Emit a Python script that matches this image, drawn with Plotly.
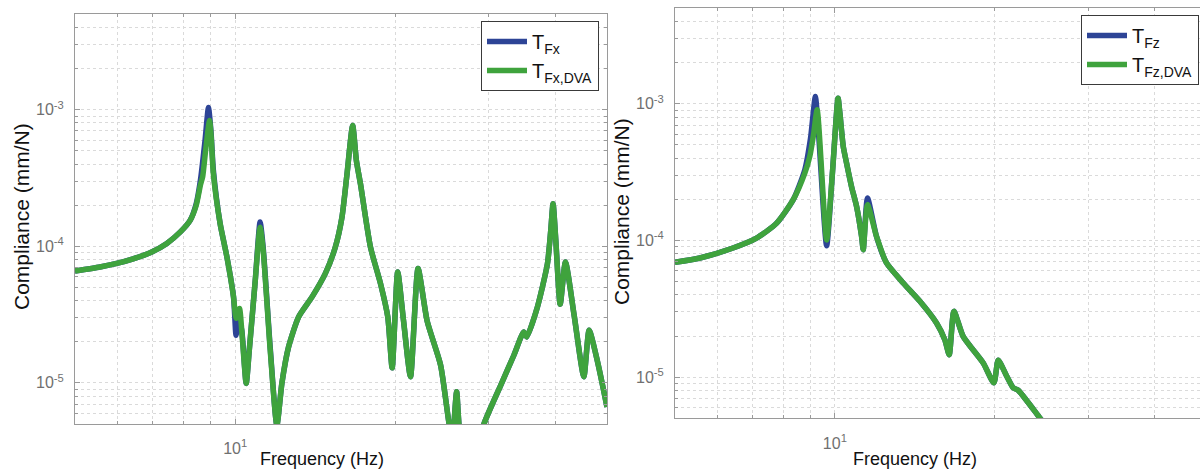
import math
import plotly.graph_objects as go

# ---------------- data ----------------
# Left panel: T_Fx (without DVA) and T_Fx,DVA
FREQ_FX = [5.0, 5.57, 5.99, 6.43, 6.97, 7.44, 7.88, 8.23, 8.45, 8.61, 8.78, 8.91, 9.01, 9.10,
           9.37, 9.65, 9.93, 10.04, 10.15, 10.29, 10.49, 10.63, 10.91, 11.14, 11.29, 11.64,
           11.98, 12.24, 12.60, 13.16, 13.95, 14.77, 15.43, 15.88, 16.23, 16.63, 16.90, 17.20,
           17.96, 18.76, 19.36, 19.73, 20.21, 20.72, 21.36, 22.07, 22.96, 24.33, 25.21, 25.6,
           26.08, 26.55, 28.0, 29.35, 31.56, 33.43, 34.87, 35.32, 37.00, 38.64, 39.20, 39.59,
           40.06, 40.83, 41.77, 43.37, 45.23, 46.28, 48.01, 50.0]
T_FX = [6.6e-5, 7.06e-5, 7.5e-5, 8.1e-5, 9.1e-5, 1.05e-4, 1.27e-4, 1.55e-4, 2.05e-4, 3.1e-4,
        6.0e-4, 1.04e-3, 6.8e-4, 3.6e-4, 1.47e-4, 8.35e-5, 4.26e-5, 2.23e-5, 3.0e-5, 2.43e-5,
        9.9e-6, 1.73e-5, 5.64e-5, 1.51e-4, 9.8e-5, 1.8e-5, 4.9e-6, 9.9e-6, 1.83e-5, 3.04e-5,
        4.26e-5, 6.31e-5, 9.88e-5, 1.64e-4, 3.40e-4, 7.67e-4, 4.25e-4, 2.87e-4, 9.88e-5,
        5.33e-5, 3.04e-5, 1.29e-5, 6.49e-5, 2.88e-5, 1.11e-5, 6.87e-5, 2.83e-5, 1.35e-5,
        5.19e-6, 3.8e-6, 8.6e-6, 3.8e-6, 2.5e-6, 5.0e-6, 9.6e-6, 1.60e-5, 2.36e-5, 2.17e-5,
        3.60e-5, 7.47e-5, 1.31e-4, 2.05e-4, 1.11e-4, 3.77e-5, 7.68e-5, 3.13e-5, 1.11e-5,
        2.43e-5, 1.42e-5, 6.67e-6]

FREQ_FX_DVA = [5.0, 5.57, 5.99, 6.43, 6.97, 7.44, 7.88, 8.23, 8.45, 8.61, 8.69, 8.80, 8.95, 9.01,
               9.10, 9.37, 9.65, 9.93, 10.04, 10.19, 10.29, 10.49, 10.63, 10.91, 11.14, 11.29,
               11.64, 11.98, 12.24, 12.60, 13.16, 13.95, 14.77, 15.43, 15.88, 16.23, 16.63,
               16.90, 17.20, 17.96, 18.76, 19.36, 19.73, 20.21, 20.72, 21.36, 22.07, 22.96,
               24.33, 25.21, 25.6, 26.08, 26.55, 28.0, 29.35, 31.56, 33.43, 34.87, 35.32,
               37.00, 38.64, 39.20, 39.59, 40.06, 40.83, 41.77, 43.37, 45.23, 46.28, 48.01, 50.0]
T_FX_DVA = [6.6e-5, 7.06e-5, 7.5e-5, 8.1e-5, 9.1e-5, 1.05e-4, 1.27e-4, 1.55e-4, 2.0e-4, 2.84e-4,
            3.25e-4, 5.03e-4, 8.35e-4, 6.49e-4, 3.40e-4, 1.47e-4, 8.35e-5, 4.26e-5, 2.97e-5,
            3.50e-5, 2.43e-5, 9.9e-6, 1.73e-5, 5.64e-5, 1.38e-4, 9.35e-5, 1.73e-5, 4.9e-6,
            9.9e-6, 1.83e-5, 3.04e-5, 4.26e-5, 6.31e-5, 9.88e-5, 1.64e-4, 3.40e-4, 7.67e-4,
            4.25e-4, 2.87e-4, 9.88e-5, 5.33e-5, 3.04e-5, 1.29e-5, 6.49e-5, 2.88e-5, 1.11e-5,
            6.87e-5, 2.83e-5, 1.35e-5, 5.19e-6, 3.8e-6, 8.6e-6, 3.8e-6, 2.5e-6, 5.0e-6, 9.6e-6,
            1.60e-5, 2.36e-5, 2.17e-5, 3.60e-5, 7.47e-5, 1.31e-4, 2.05e-4, 1.11e-4, 3.77e-5,
            7.68e-5, 3.13e-5, 1.11e-5, 2.43e-5, 1.42e-5, 6.67e-6]

# Right panel: T_Fz (without DVA) and T_Fz,DVA
FREQ_FZ = [5.0, 5.57, 6.43, 7.12, 7.77, 8.35, 8.78, 9.0, 9.19, 9.32, 9.65, 9.9, 10.14, 10.22,
           10.37, 10.52, 10.75, 10.99, 11.23, 11.31, 11.52, 11.98, 12.51, 13.45, 14.46, 15.54,
           16.11, 16.42, 16.76, 17.44, 19.03, 19.93, 20.31, 21.06, 21.67, 22.14, 24.33, 24.8]
T_FZ = [6.92e-5, 7.45e-5, 8.81e-5, 1.04e-4, 1.34e-4, 1.99e-4, 3.3e-4, 5.6e-4, 1.13e-3, 6.0e-4,
        9.16e-5, 3.2e-4, 1.10e-3, 8.55e-4, 4.88e-4, 3.69e-4, 2.48e-4, 1.77e-4, 1.07e-4, 8.57e-5,
        2.05e-4, 1.07e-4, 6.85e-5, 4.89e-5, 3.59e-5, 2.49e-5, 1.88e-5, 1.46e-5, 3.03e-5, 1.99e-5,
        1.27e-5, 9.09e-6, 1.33e-5, 1.02e-5, 8.35e-6, 8.02e-6, 5.03e-6, 4.6e-6]

FREQ_FZ_DVA = [5.0, 5.57, 6.43, 7.12, 7.77, 8.35, 8.78, 8.97, 9.12, 9.26, 9.65, 9.9, 10.14, 10.22,
               10.37, 10.52, 10.75, 10.99, 11.23, 11.31, 11.52, 11.98, 12.51, 13.45, 14.46,
               15.54, 16.11, 16.42, 16.76, 17.44, 19.03, 19.93, 20.31, 21.06, 21.67, 22.14,
               24.33, 24.8]
T_FZ_DVA = [6.92e-5, 7.45e-5, 8.81e-5, 1.04e-4, 1.34e-4, 1.99e-4, 3.11e-4, 4.12e-4, 6.0e-4,
            9.04e-4, 1.01e-4, 3.2e-4, 1.10e-3, 8.55e-4, 4.88e-4, 3.69e-4, 2.48e-4, 1.77e-4,
            1.07e-4, 8.57e-5, 1.83e-4, 1.07e-4, 6.85e-5, 4.89e-5, 3.59e-5, 2.49e-5, 1.88e-5,
            1.46e-5, 3.03e-5, 1.99e-5, 1.27e-5, 9.09e-6, 1.33e-5, 1.02e-5, 8.35e-6, 8.02e-6,
            5.03e-6, 4.6e-6]

X_TICKS = [10]
X_TICK_LABELS = ["10<sup>1</sup>"]
Y_TICKS = [1e-5, 1e-4, 1e-3]
Y_TICK_LABELS = ["10<sup>-5</sup>", "10<sup>-4</sup>", "10<sup>-3</sup>"]
X_RANGE_HZ = [5, 50]
Y_RANGE = [5e-6, 5e-3]

# ---------------- styling ----------------
BLUE = "#2d4496"
GREEN = "#3fa33d"
FONT = "Liberation Sans, Arial, Helvetica, sans-serif"
AXIS_COLOR = "#9a9a9a"
GRID_COLOR = "#dadada"
LW = 5.5
SMOOTH = 0.6

x_minor = [m * 10 ** e for e in (0, 1) for m in range(2, 10)]
y_minor = [m * 10.0 ** e for e in (-6, -5, -4, -3) for m in range(2, 10)]

W, H = 1200, 472


def axis_common(tickvals, ticktext, minorvals, standoff):
    return dict(
        type="log", showline=True, linecolor=AXIS_COLOR, linewidth=1,
        ticks="inside", ticklen=5, tickcolor=AXIS_COLOR, tickwidth=1,
        tickmode="array", tickvals=tickvals, ticktext=ticktext,
        showgrid=True, gridcolor=GRID_COLOR, griddash="dot", gridwidth=1,
        zeroline=False, ticklabelstandoff=standoff,
        tickfont=dict(family=FONT, size=16, color="#707070"),
        minor=dict(tickmode="array", tickvals=minorvals, ticks="inside", ticklen=3,
                   tickcolor=AXIS_COLOR, showgrid=True, gridcolor=GRID_COLOR,
                   griddash="dot", gridwidth=1),
    )


fig = go.Figure()


def line(color):
    return dict(color=color, width=LW, shape="spline", smoothing=SMOOTH)


fig.add_trace(go.Scatter(x=FREQ_FX, y=T_FX, mode="lines", name="T<sub>Fx</sub>",
                         line=line(BLUE), xaxis="x", yaxis="y", legend="legend"))
fig.add_trace(go.Scatter(x=FREQ_FX_DVA, y=T_FX_DVA, mode="lines", name="T<sub>Fx,DVA</sub>",
                         line=line(GREEN), xaxis="x", yaxis="y", legend="legend"))
fig.add_trace(go.Scatter(x=FREQ_FZ, y=T_FZ, mode="lines", name="T<sub>Fz</sub>",
                         line=line(BLUE), xaxis="x2", yaxis="y2", legend="legend2"))
fig.add_trace(go.Scatter(x=FREQ_FZ_DVA, y=T_FZ_DVA, mode="lines", name="T<sub>Fz,DVA</sub>",
                         line=line(GREEN), xaxis="x2", yaxis="y2", legend="legend2"))

xr = [math.log10(X_RANGE_HZ[0]), math.log10(X_RANGE_HZ[1])]
yr = [math.log10(Y_RANGE[0]), math.log10(Y_RANGE[1])]
# right panel is cut at the image edge
xr2 = [xr[0], xr[0] + (xr[1] - xr[0]) * (1200 - 675) / (1206 - 675)]

xa1 = axis_common(X_TICKS, X_TICK_LABELS, x_minor, 10)
xa1.update(domain=[75 / W, 607 / W], range=xr, anchor="y", mirror="ticks")
ya1 = axis_common(Y_TICKS, Y_TICK_LABELS, y_minor, 7)
ya1.update(domain=[(H - 424) / H, (H - 14.3) / H], range=yr, anchor="x", mirror="ticks")
xa2 = axis_common(X_TICKS, X_TICK_LABELS, x_minor, 10)
xa2.update(domain=[675 / W, 1.0], range=xr2, anchor="y2", mirror="ticks")
ya2 = axis_common(Y_TICKS, Y_TICK_LABELS, y_minor, 7)
ya2.update(domain=[(H - 418.3) / H, (H - 8.3) / H], range=yr, anchor="x2", mirror=False)

legend_style = dict(bgcolor="white", bordercolor="#3a3a3a", borderwidth=1,
                    font=dict(family=FONT, size=20, color="#111111"),
                    xanchor="right", yanchor="top", tracegroupgap=0, itemwidth=40)

title_font = dict(family=FONT, size=18, color="#111111")
ytitle_font = dict(family=FONT, size=21, color="#111111")

fig.update_layout(
    width=W, height=H, margin=dict(l=0, r=0, t=0, b=0),
    paper_bgcolor="white", plot_bgcolor="white",
    xaxis=xa1, yaxis=ya1, xaxis2=xa2, yaxis2=ya2,
    showlegend=True,
    legend=dict(x=599 / W, y=1 - 21 / H, **legend_style),
    legend2=dict(x=1199 / W, y=1 - 15 / H, **legend_style),
    annotations=[
        dict(text="Frequency (Hz)", x=322 / W, y=1 - 459 / H, xref="paper", yref="paper",
             xanchor="center", yanchor="middle", showarrow=False, font=title_font),
        dict(text="Frequency (Hz)", x=915 / W, y=1 - 459 / H, xref="paper", yref="paper",
             xanchor="center", yanchor="middle", showarrow=False, font=title_font),
        dict(text="Compliance (mm/N)", x=21 / W, y=1 - 217 / H, xref="paper", yref="paper",
             xanchor="center", yanchor="middle", showarrow=False, textangle=-90,
             font=ytitle_font),
        dict(text="Compliance (mm/N)", x=621 / W, y=1 - 212 / H, xref="paper", yref="paper",
             xanchor="center", yanchor="middle", showarrow=False, textangle=-90,
             font=ytitle_font),
    ],
)

fig.write_html("out.html", config={"displayModeBar": False},
               post_script="document.body.style.margin='0';")
